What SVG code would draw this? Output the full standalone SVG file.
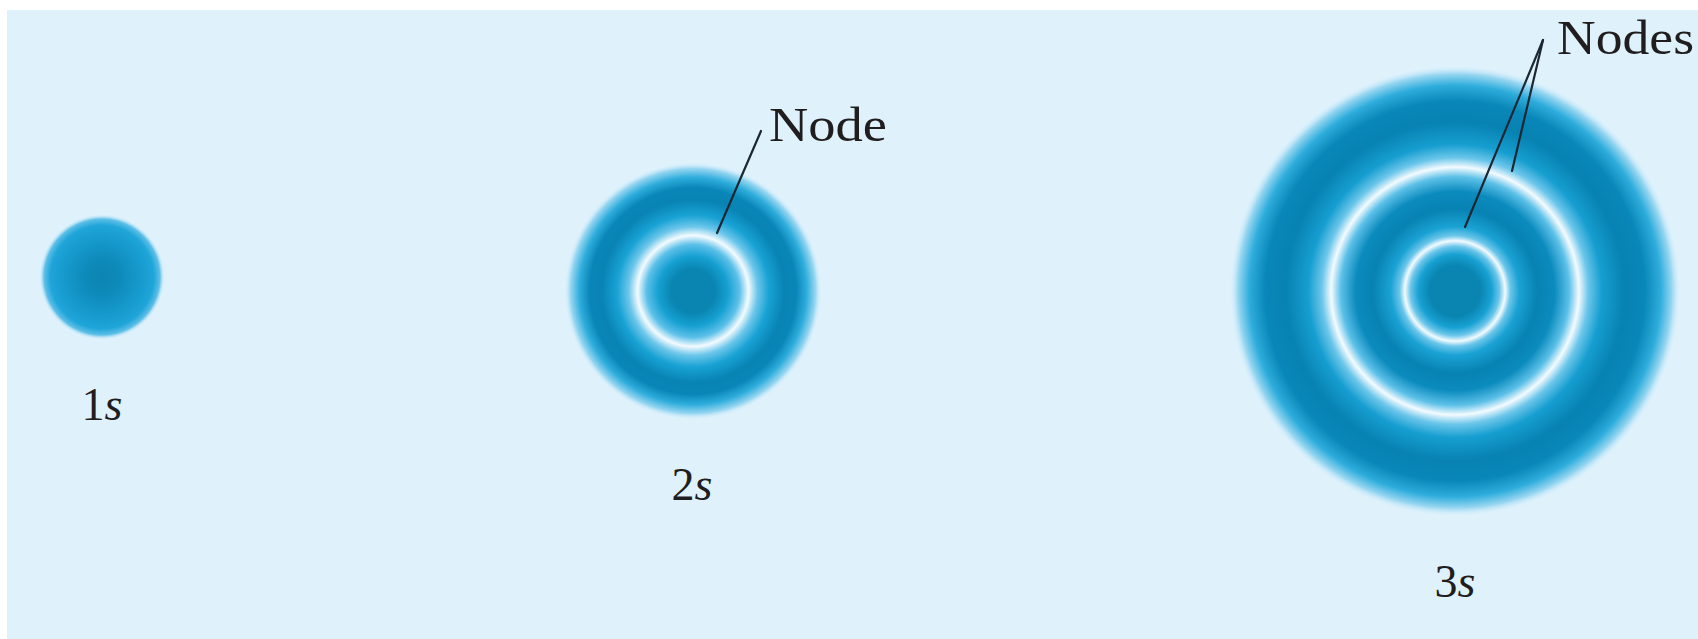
<svg xmlns="http://www.w3.org/2000/svg" width="1698" height="639" viewBox="0 0 1698 639">
  <style>
    .label { font-family: "Liberation Serif", "Times New Roman", serif; font-size: 46px; fill: #1f1d1e; }
    .label .it { font-style: italic; }
    .callout { font-family: "Liberation Serif", "Times New Roman", serif; font-size: 48px; fill: #1f1d1e; }
    .leader { stroke: #1c2733; stroke-width: 2.2; stroke-linecap: round; fill: none; }
  </style>
  <defs>
    <!-- 1s: single lobe, densest at the nucleus -->
    <radialGradient id="g1s" cx="0.5" cy="0.5" r="0.5">
      <stop offset="0" stop-color="#0b84b1"/>
      <stop offset="0.3" stop-color="#0e8bbb"/>
      <stop offset="0.65" stop-color="#189cd0"/>
      <stop offset="0.82" stop-color="#1fa5d9"/>
      <stop offset="0.92" stop-color="#5dbfe7"/>
      <stop offset="1" stop-color="#dff2fc" stop-opacity="0"/>
    </radialGradient>
    <!-- 2s: core, one radial node, outer shell -->
    <radialGradient id="g2s" cx="0.5" cy="0.5" r="0.5">
      <stop offset="0" stop-color="#0a84b0"/>
      <stop offset="0.17" stop-color="#0a85b1"/>
      <stop offset="0.27" stop-color="#15a0d2"/>
      <stop offset="0.36" stop-color="#5cc0e8"/>
      <stop offset="0.43" stop-color="#f3fbff"/>
      <stop offset="0.5" stop-color="#6cc6ea"/>
      <stop offset="0.59" stop-color="#18a2d4"/>
      <stop offset="0.71" stop-color="#0883b4"/>
      <stop offset="0.8" stop-color="#0986b7"/>
      <stop offset="0.88" stop-color="#2eaddc"/>
      <stop offset="0.95" stop-color="#97d6f1"/>
      <stop offset="1" stop-color="#dff2fc" stop-opacity="0"/>
    </radialGradient>
    <!-- 3s: core, two radial nodes, outer shell -->
    <radialGradient id="g3s" cx="0.5" cy="0.5" r="0.5">
      <stop offset="0" stop-color="#0a84b0"/>
      <stop offset="0.112" stop-color="#0a85b1"/>
      <stop offset="0.162" stop-color="#17a1d3"/>
      <stop offset="0.197" stop-color="#6cc6ea"/>
      <stop offset="0.222" stop-color="#f3fbff"/>
      <stop offset="0.245" stop-color="#6cc6ea"/>
      <stop offset="0.285" stop-color="#1aa2d4"/>
      <stop offset="0.365" stop-color="#0782b2"/>
      <stop offset="0.44" stop-color="#0b8bbd"/>
      <stop offset="0.505" stop-color="#5cc0e8"/>
      <stop offset="0.548" stop-color="#f3fbff"/>
      <stop offset="0.59" stop-color="#6cc6ea"/>
      <stop offset="0.65" stop-color="#169ed0"/>
      <stop offset="0.75" stop-color="#0782b2"/>
      <stop offset="0.84" stop-color="#0987b8"/>
      <stop offset="0.91" stop-color="#2eaddc"/>
      <stop offset="0.96" stop-color="#97d6f1"/>
      <stop offset="1" stop-color="#dff2fc" stop-opacity="0"/>
    </radialGradient>
  </defs>

  <!-- page and panel background -->
  <rect x="0" y="0" width="1698" height="639" fill="#ffffff"/>
  <rect x="7" y="10" width="1691" height="629" fill="#dff2fc"/>

  <g id="orbital-1s">
    <circle cx="102" cy="277" r="63" fill="url(#g1s)"/>
    <text class="label" x="102" y="420" text-anchor="middle">1<tspan class="it">s</tspan></text>
  </g>

  <g id="orbital-2s">
    <circle cx="693" cy="291" r="129" fill="url(#g2s)"/>
    <text class="label" x="692" y="500" text-anchor="middle">2<tspan class="it">s</tspan></text>
  </g>

  <g id="orbital-3s">
    <circle cx="1455" cy="291" r="226" fill="url(#g3s)"/>
    <text class="label" x="1455" y="597" text-anchor="middle">3<tspan class="it">s</tspan></text>
  </g>

  <g id="connectors">
    <line class="leader" x1="717" y1="233" x2="761" y2="131"/>
    <line class="leader" x1="1465" y1="227" x2="1543" y2="40"/>
    <line class="leader" x1="1512" y1="171" x2="1543" y2="40"/>
  </g>

  <g id="callout-node">
    <text class="callout" x="769" y="141" textLength="118" lengthAdjust="spacingAndGlyphs">Node</text>
  </g>

  <g id="callout-nodes">
    <text class="callout" x="1557" y="54" textLength="137" lengthAdjust="spacingAndGlyphs">Nodes</text>
  </g>
</svg>
